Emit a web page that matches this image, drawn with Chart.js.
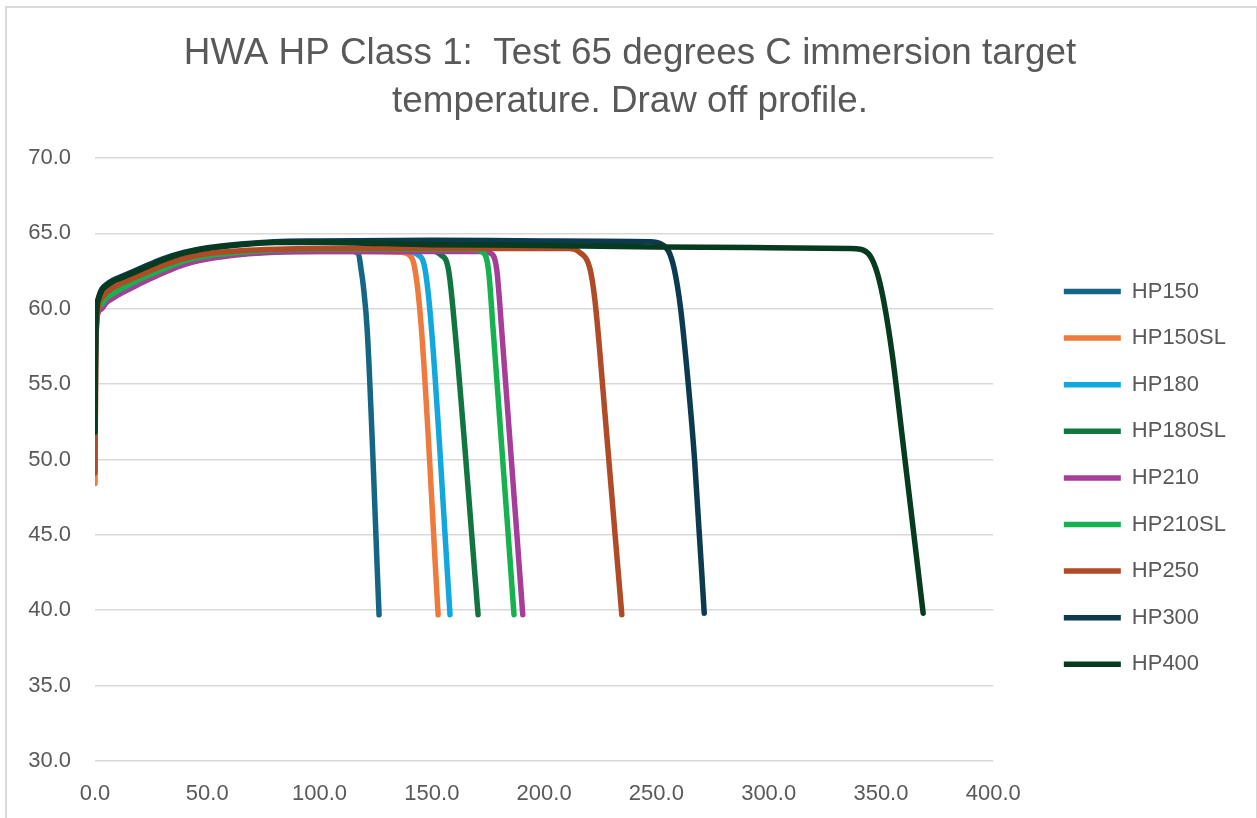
<!DOCTYPE html>
<html lang="en">
<head>
<meta charset="UTF-8">
<title>HWA HP Class 1: Test 65 degrees C - draw off profile</title>
<style>
  html, body { margin: 0; padding: 0; overflow: hidden; background: #fff; }
  #chart { position: absolute; left: 0; top: 0; }
  /* light frame round the chart, like the Excel chart border */
  #frame { position: absolute; left: 5px; top: 6px; width: 1249px; height: 840px;
           border: 2px solid #d9d9d9; pointer-events: none; }
</style>
</head>
<body>
<canvas id="chart" width="1257" height="818"></canvas>
<div id="frame"></div>

<script src="https://cdn.jsdelivr.net/npm/chart.js"></script>
<script>
// series names and colours
var seriesNames = ['HP150', 'HP150SL', 'HP180', 'HP180SL', 'HP210', 'HP210SL', 'HP250', 'HP300', 'HP400'];
var seriesColors = ['#156585', '#ef7a3d', '#12a7dd', '#117540', '#a53d99', '#16b24f', '#b14a26', '#0c3a50', '#063b1f'];

// axis ranges
var xMin = 0, xMax = 400, xStep = 50;
var yMin = 30, yMax = 70, yStep = 5;

// draw-off volume (x) and temperature (y)
var hp150X = [0, 0.3, 0.7, 1.5, 3, 5, 8, 12, 16, 22, 30, 40, 50, 65, 80, 100, 113, 117.3, 118.5, 119.5, 121.3, 126.5];
var hp150Y = [55.0, 58.0, 59.3, 59.9, 60.1, 60.5, 60.8, 61.15, 61.45, 61.9, 62.45, 63.05, 63.4, 63.65, 63.8, 63.85, 63.85, 63.65, 62.6, 61.5, 58.4, 39.7];

var hp150slX = [0, 0.3, 0.7, 1.5, 3, 5, 8, 12, 16, 22, 30, 40, 50, 65, 80, 100, 120, 136, 139.6, 142.5, 145.5, 152.8];
var hp150slY = [48.4, 56.5, 58.8, 59.8, 60.1, 60.5, 60.8, 61.15, 61.45, 61.9, 62.45, 63.05, 63.4, 63.65, 63.8, 63.8, 63.8, 63.75, 63.6, 62.6, 58.4, 39.7];

var hp180X = [0, 0.3, 0.7, 1.5, 3, 5, 8, 12, 16, 22, 30, 40, 50, 65, 80, 100, 120, 139.5, 143.6, 147.0, 150.0, 158.1];
var hp180Y = [55.5, 58.0, 59.3, 59.9, 60.1, 60.5, 60.8, 61.15, 61.45, 61.9, 62.45, 63.05, 63.4, 63.65, 63.8, 63.85, 63.85, 63.8, 63.6, 62.6, 58.4, 39.7];

var hp180slX = [0, 0.3, 0.7, 1.5, 3, 5, 8, 12, 16, 22, 30, 40, 50, 65, 80, 100, 130, 149.5, 153.7, 157.4, 160.4, 170.6];
var hp180slY = [56.0, 58.2, 59.4, 60.0, 60.2, 60.6, 60.9, 61.25, 61.55, 62.0, 62.5, 63.1, 63.45, 63.7, 63.85, 63.9, 63.9, 63.85, 63.6, 62.6, 58.4, 39.7];

var hp210X = [0, 0.3, 0.7, 1.5, 3, 5, 8, 12, 16, 22, 30, 40, 50, 65, 80, 100, 140, 172, 175.9, 178.9, 181.2, 190.5];
var hp210Y = [54.5, 57.8, 59.2, 59.8, 60.0, 60.4, 60.7, 61.05, 61.35, 61.8, 62.35, 62.95, 63.3, 63.6, 63.75, 63.8, 63.8, 63.8, 63.7, 62.6, 58.4, 39.7];

var hp210slX = [0, 0.3, 0.7, 1.5, 3, 5, 8, 12, 16, 22, 30, 40, 50, 65, 80, 100, 140, 168.5, 172.2, 175.2, 177.4, 186.6];
var hp210slY = [56.5, 58.3, 59.5, 60.1, 60.3, 60.7, 61.0, 61.35, 61.65, 62.1, 62.6, 63.2, 63.5, 63.75, 63.9, 63.95, 63.95, 63.95, 63.8, 62.6, 58.4, 39.7];

var hp250X = [0, 0.3, 0.7, 1.5, 3, 5, 8, 12, 16, 22, 30, 40, 50, 65, 80, 100, 150, 200, 211, 215.3, 220.5, 222.6, 224.6, 227.0, 234.6];
var hp250Y = [49.1, 57.0, 59.0, 60.2, 60.7, 61.05, 61.4, 61.7, 61.95, 62.35, 62.85, 63.35, 63.65, 63.85, 63.95, 64.0, 64.0, 64.0, 64.0, 63.8, 62.6, 60.6, 57.5, 53.2, 39.7];

var hp300X = [0, 0.3, 0.7, 1.5, 3, 5, 8, 12, 16, 22, 30, 40, 50, 65, 80, 100, 150, 200, 247, 252, 255.5, 258.0, 260.8, 264.2, 267.0, 271.3];
var hp300Y = [56.0, 58.5, 60.0, 60.7, 61.3, 61.6, 61.9, 62.15, 62.4, 62.8, 63.3, 63.75, 64.05, 64.3, 64.45, 64.5, 64.55, 64.5, 64.45, 64.3, 63.8, 62.6, 60.0, 55.0, 50.0, 39.8];

var hp400X = [0, 0.3, 0.7, 1.5, 3, 5, 8, 12, 16, 22, 30, 40, 50, 65, 80, 100, 150, 200, 250, 300, 336, 340.8, 345.2, 348.5, 351.5, 355.0, 359.5, 368.8];
var hp400Y = [51.8, 57.8, 59.8, 60.6, 61.2, 61.5, 61.8, 62.05, 62.3, 62.7, 63.2, 63.7, 64.0, 64.25, 64.4, 64.4, 64.25, 64.2, 64.1, 64.05, 64.0, 63.95, 63.5, 62.3, 60.3, 57.0, 51.5, 39.8];

var seriesX = [hp150X, hp150slX, hp180X, hp180slX, hp210X, hp210slX, hp250X, hp300X, hp400X];
var seriesY = [hp150Y, hp150slY, hp180Y, hp180slY, hp210Y, hp210slY, hp250Y, hp300Y, hp400Y];

var fontFamily = '"Liberation Sans", Arial, sans-serif';
var textColor = '#595959';
var gridColor = '#d9d9d9';

Chart.defaults.font.family = fontFamily;
Chart.defaults.color = textColor;

var datasets = seriesNames.map(function (name, i) {
    return {
        label: name,
        data: seriesX[i].map(function (x, j) { return { x: x, y: seriesY[i][j] }; }),
        xAxisID: 'x',
        yAxisID: 'y',
        borderColor: seriesColors[i],
        backgroundColor: seriesColors[i],
        borderWidth: 5.5,
        borderCapStyle: 'round',
        borderJoinStyle: 'round',
        pointRadius: 0,
        pointHoverRadius: 0,
        pointStyle: 'line',
        showLine: true,
        cubicInterpolationMode: 'monotone',
        // later series are drawn on top, as in the original
        order: seriesNames.length - 1 - i
    };
});

function oneDecimal(v) { return Number(v).toFixed(1); }

new Chart(document.getElementById('chart'), {
    type: 'scatter',
    data: { datasets: datasets },
    options: {
        responsive: false,
        animation: false,
        // side padding keeps the title centred on the page
        layout: { padding: { left: 24, right: 21, top: 0, bottom: 0 } },
        scales: {
            x: {
                type: 'linear',
                position: 'bottom',
                min: xMin, max: xMax,
                grid: { display: false },
                border: { display: false },
                ticks: { stepSize: xStep, padding: 12, color: textColor,
                         font: { size: 22 }, callback: oneDecimal, maxRotation: 0 },
                afterFit: function (s) { s.height = 57; }
            },
            y: {
                type: 'linear',
                position: 'left',
                min: yMin, max: yMax,
                grid: { color: gridColor, lineWidth: 1.5, drawTicks: false },
                border: { display: false },
                ticks: { stepSize: yStep, padding: 24, color: textColor,
                         font: { size: 22 }, callback: oneDecimal },
                afterFit: function (s) { s.width = 71; }
            },
            // empty spacer between plot and legend
            gap: {
                type: 'linear',
                position: 'right',
                display: true,
                grid: { display: false },
                border: { display: false },
                ticks: { display: false },
                afterFit: function (s) { s.width = 46; }
            }
        },
        plugins: {
            title: {
                display: true,
                text: ['HWA HP Class 1:  Test 65 degrees C immersion target', 'temperature. Draw off profile.'],
                color: textColor,
                font: { size: 36.8, weight: 'normal', lineHeight: 1.3 },
                padding: { top: 30, bottom: 32.3 }
            },
            legend: {
                position: 'right',
                fullSize: false,
                title: { display: true, text: '', padding: 0, font: { size: 16, lineHeight: 2.3 } },
                labels: {
                    usePointStyle: true,
                    pointStyleWidth: 57,
                    padding: 24.6,
                    color: textColor,
                    font: { size: 22 },
                    sort: function (a, b) { return a.datasetIndex - b.datasetIndex; }
                }
            },
            tooltip: { enabled: false }
        }
    }
});
</script>
</body>
</html>
